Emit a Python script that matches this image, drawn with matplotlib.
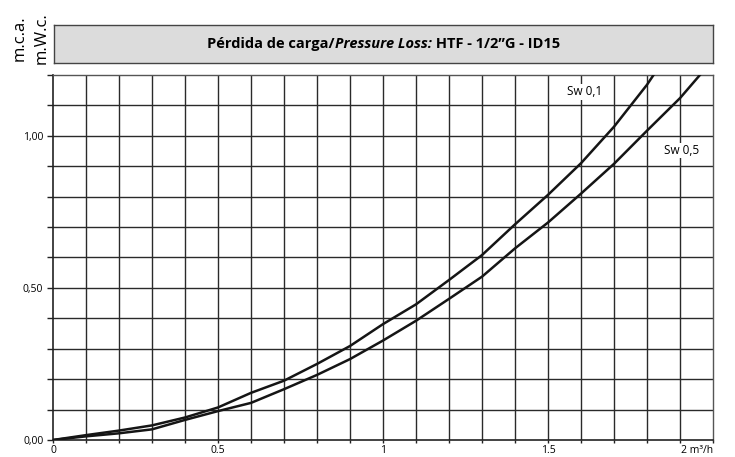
import matplotlib
matplotlib.use('Agg')
import matplotlib.pyplot as plt
import numpy as np

plt.rcParams['font.family'] = ['Open Sans', 'DejaVu Sans']

# flow in m3/h
flow = [0.0, 0.1, 0.2, 0.3, 0.4, 0.5, 0.6, 0.7, 0.8, 0.9, 1.0,
        1.1, 1.2, 1.3, 1.4, 1.5, 1.6, 1.7, 1.8, 1.9, 2.0]
# pressure loss in m.c.a.
sw01 = [0.0, 0.016, 0.031, 0.048, 0.074, 0.107, 0.155, 0.195, 0.25, 0.309, 0.381,
        0.446, 0.526, 0.608, 0.709, 0.806, 0.91, 1.03, 1.168, 1.33, 1.50]
sw05 = [0.0, 0.012, 0.022, 0.035, 0.066, 0.095, 0.122, 0.167, 0.214, 0.266, 0.327,
        0.392, 0.464, 0.537, 0.63, 0.715, 0.81, 0.908, 1.017, 1.124, 1.25]

curve_labels = ['Sw 0,1', 'Sw 0,5']
label_pos = [(1.61, 1.145), (1.905, 0.952)]

x_ticks = [0, 0.5, 1, 1.5, 2]
x_ticklabels = ['0', '0.5', '1', '1.5', '2 m³/h']
y_ticks = [0, 0.5, 1.0]
y_ticklabels = ['0,00', '0,50', '1,00']

title_parts = [('Pérdida de carga/', 'normal'), ('Pressure Loss:', 'italic'),
               (' HTF - 1/2”G - ID15', 'normal')]

fig = plt.figure(figsize=(7.35, 4.57), dpi=100)
ax = fig.add_axes([0.0721, 0.0372, 0.8980, 0.7987])

# grid every 0.1
for gx in np.arange(0.1, 2.0, 0.1):
    ax.axvline(gx, color='#2a2a2a', lw=1.0, zorder=1)
for gy in np.arange(0.1, 1.2, 0.1):
    ax.axhline(gy, color='#2a2a2a', lw=1.0, zorder=1)

ax.plot(flow, sw01, color='#151515', lw=1.8, zorder=3, solid_capstyle='butt')
ax.plot(flow, sw05, color='#151515', lw=1.8, zorder=3, solid_capstyle='butt')

for lab, (lx, ly) in zip(curve_labels, label_pos):
    ax.text(lx, ly, lab, fontsize=8.5, ha='center', va='center', zorder=4,
            bbox=dict(facecolor='white', edgecolor='none', pad=1.0))

ax.set_xlim(0, 2)
ax.set_ylim(0, 1.2)

ax.set_xticks(np.arange(0, 2.01, 0.1), minor=True)
ax.set_yticks(np.arange(0, 1.21, 0.1), minor=True)
ax.set_xticks(x_ticks)
ax.set_xticklabels(x_ticklabels, fontsize=7.5)
ax.set_yticks(y_ticks)
ax.set_yticklabels(y_ticklabels, fontsize=7.5)
ax.get_xticklabels()[-1].set_horizontalalignment('right')
ax.tick_params(axis='x', which='both', length=2.5, width=1.0, pad=1, color='#222222')
ax.tick_params(axis='y', which='both', length=4, width=1.0, pad=3, color='#222222')

for side in ['left', 'bottom']:
    ax.spines[side].set_color('#222222')
    ax.spines[side].set_linewidth(1.2)
for side in ['right', 'top']:
    ax.spines[side].set_color('#555555')
    ax.spines[side].set_linewidth(1.0)

# title box
tax = fig.add_axes([0.0735, 0.862, 0.8966, 0.0832])
tax.set_facecolor('#dcdcdc')
tax.set_xticks([])
tax.set_yticks([])
for sp in tax.spines.values():
    sp.set_color('#444444')
    sp.set_linewidth(1.0)

# title made of pieces (bold + bold italic), centred as a whole
fig.canvas.draw()
renderer = fig.canvas.get_renderer()
pieces = []
for txt, style in title_parts:
    t = fig.text(0, 0, txt, fontsize=10.5, fontweight='bold', fontstyle=style,
                 ha='left', va='center')
    pieces.append(t)
widths = [p.get_window_extent(renderer).width for p in pieces]
total = sum(widths)
fig_w = fig.bbox.width
xc = (0.0735 + 0.8966 / 2) * fig_w
x0 = xc - total / 2
yc = 0.862 + 0.0832 / 2
for p, w in zip(pieces, widths):
    p.set_position((x0 / fig_w, yc))
    x0 += w

# unit label
fig.text(0.027, 0.917, 'm.c.a.', rotation=90, fontsize=12, ha='center', va='center')
fig.text(0.057, 0.917, 'm.W.c.', rotation=90, fontsize=12, ha='center', va='center')

fig.savefig('out.png', dpi=100)
